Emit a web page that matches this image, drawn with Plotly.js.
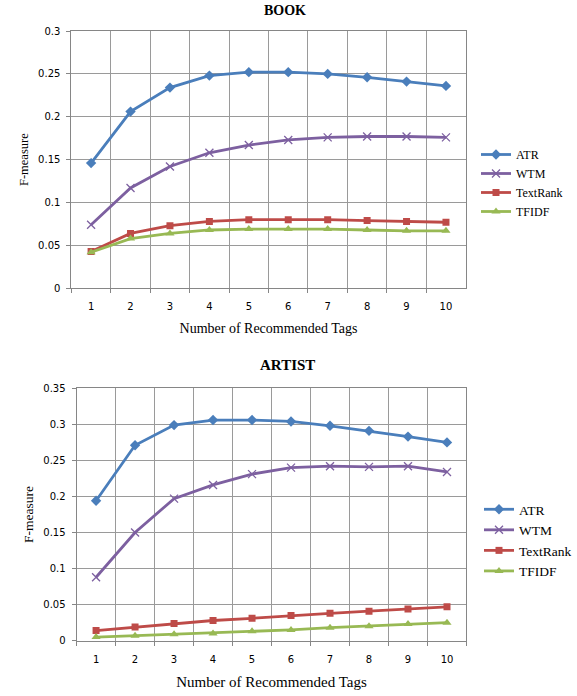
<!DOCTYPE html>
<html>
<head>
<meta charset="utf-8">
<script src="https://cdn.plot.ly/plotly-3.0.1.min.js"></script>
<style>html,body{margin:0;padding:0;background:#fff;}#chart{width:577px;height:696px;}</style>
</head>
<body>
<div id="chart"></div>
<script>
const categories = ["1","2","3","4","5","6","7","8","9","10"];
const seriesNames = ["ATR","WTM","TextRank","TFIDF"];

const bookATR      = [0.146, 0.206, 0.234, 0.248, 0.252, 0.252, 0.250, 0.246, 0.241, 0.236];
const bookWTM      = [0.074, 0.117, 0.142, 0.158, 0.167, 0.173, 0.176, 0.177, 0.177, 0.176];
const bookTextRank = [0.043, 0.064, 0.073, 0.078, 0.080, 0.080, 0.080, 0.079, 0.078, 0.077];
const bookTFIDF    = [0.042, 0.058, 0.064, 0.068, 0.069, 0.069, 0.069, 0.068, 0.067, 0.067];

const artistATR      = [0.194, 0.271, 0.299, 0.306, 0.306, 0.304, 0.298, 0.291, 0.283, 0.275];
const artistWTM      = [0.088, 0.150, 0.197, 0.216, 0.231, 0.240, 0.242, 0.241, 0.242, 0.234];
const artistTextRank = [0.014, 0.019, 0.024, 0.028, 0.031, 0.035, 0.038, 0.041, 0.044, 0.047];
const artistTFIDF    = [0.005, 0.007, 0.009, 0.010, 0.013, 0.015, 0.018, 0.020, 0.023, 0.025];

const colors = {ATR:"#4A7EBB", WTM:"#7D60A0", TextRank:"#BE4B48", TFIDF:"#98B954"};
const markers = {
  ATR:{symbol:"diamond", size:8},
  WTM:{symbol:"x-thin", size:8, line:{width:1.3, color:colors.WTM}},
  TextRank:{symbol:"square", size:7},
  TFIDF:{symbol:"triangle-up", size:8}
};

function mk(name, y, xa, ya, leg){
  const m = Object.assign({color:colors[name]}, markers[name]);
  return {x:categories, y:y, name:name, type:"scatter", mode:"lines+markers",
    line:{color:colors[name], width:2.8}, marker:m, xaxis:xa, yaxis:ya, legend:leg};
}

const data = [
  mk("ATR", bookATR, "x", "y", "legend"),
  mk("WTM", bookWTM, "x", "y", "legend"),
  mk("TextRank", bookTextRank, "x", "y", "legend"),
  mk("TFIDF", bookTFIDF, "x", "y", "legend"),
  mk("ATR", artistATR, "x2", "y2", "legend2"),
  mk("WTM", artistWTM, "x2", "y2", "legend2"),
  mk("TextRank", artistTextRank, "x2", "y2", "legend2"),
  mk("TFIDF", artistTFIDF, "x2", "y2", "legend2")
];

const serif = "Liberation Serif, Times New Roman, serif";
const sans = "DejaVu Sans, Verdana, sans-serif";
const gridC = "#9a9a9a", lineC = "#868686";

function xax(domain, anchor, fs, lblOff, titleOff){
  return {domain:domain, anchor:anchor, type:"category", tickson:"boundaries",
    range:[-0.5,9.5], showgrid:true, gridcolor:gridC, gridwidth:1,
    showline:true, linecolor:lineC, linewidth:1, mirror:true,
    ticks:"outside", ticklen:4, tickcolor:lineC, ticklabelstandoff:lblOff,
    tickfont:{family:sans, size:10, color:"#000"},
    title:{text:"Number of Recommended Tags", font:{family:serif, size:fs, color:"#000"}, standoff:titleOff},
    automargin:false, fixedrange:true};
}
function yax(domain, anchor, max, fs){
  return {domain:domain, anchor:anchor, range:[0,max], dtick:0.05, tick0:0,
    showgrid:true, gridcolor:gridC, gridwidth:1, zeroline:false,
    showline:true, linecolor:lineC, linewidth:1, mirror:true,
    ticks:"outside", ticklen:4, tickcolor:lineC, ticklabelstandoff:4,
    tickfont:{family:sans, size:10, color:"#000"},
    title:{text:"F-measure", font:{family:serif, size:fs, color:"#000"}, standoff:6},
    automargin:false, fixedrange:true};
}

const layout = {
  width:577, height:696,
  margin:{l:0, r:0, t:0, b:0},
  paper_bgcolor:"#fff", plot_bgcolor:"#fff",
  showlegend:true,
  xaxis: xax([71.5/577, 466.5/577], "y", 14, 9, 11),
  yaxis: yax([1-288.3/696, 1-31/696], "x", 0.3, 12.5),
  xaxis2: xax([76.7/577, 467.3/577], "y2", 15, 9, 12),
  yaxis2: yax([1-640.7/696, 1-388.3/696], "x2", 0.35, 13.5),
  legend:{x:476/577, y:1-183/696, xanchor:"left", yanchor:"middle",
    font:{family:serif, size:12, color:"#000"}, bgcolor:"rgba(0,0,0,0)", tracegroupgap:0},
  legend2:{x:480/577, y:1-540.5/696, xanchor:"left", yanchor:"middle",
    font:{family:serif, size:13.5, color:"#000"}, bgcolor:"rgba(0,0,0,0)", tracegroupgap:0},
  annotations:[
    {text:"<b>BOOK</b>", xref:"paper", yref:"paper", x:285/577, y:1-11/696, xanchor:"center", yanchor:"middle",
      showarrow:false, font:{family:serif, size:14, color:"#000"}},
    {text:"<b>ARTIST</b>", xref:"paper", yref:"paper", x:288/577, y:1-365/696, xanchor:"center", yanchor:"middle",
      showarrow:false, font:{family:serif, size:15, color:"#000"}}
  ]
};

Plotly.newPlot("chart", data, layout, {displayModeBar:false, staticPlot:true});
</script>
</body>
</html>
